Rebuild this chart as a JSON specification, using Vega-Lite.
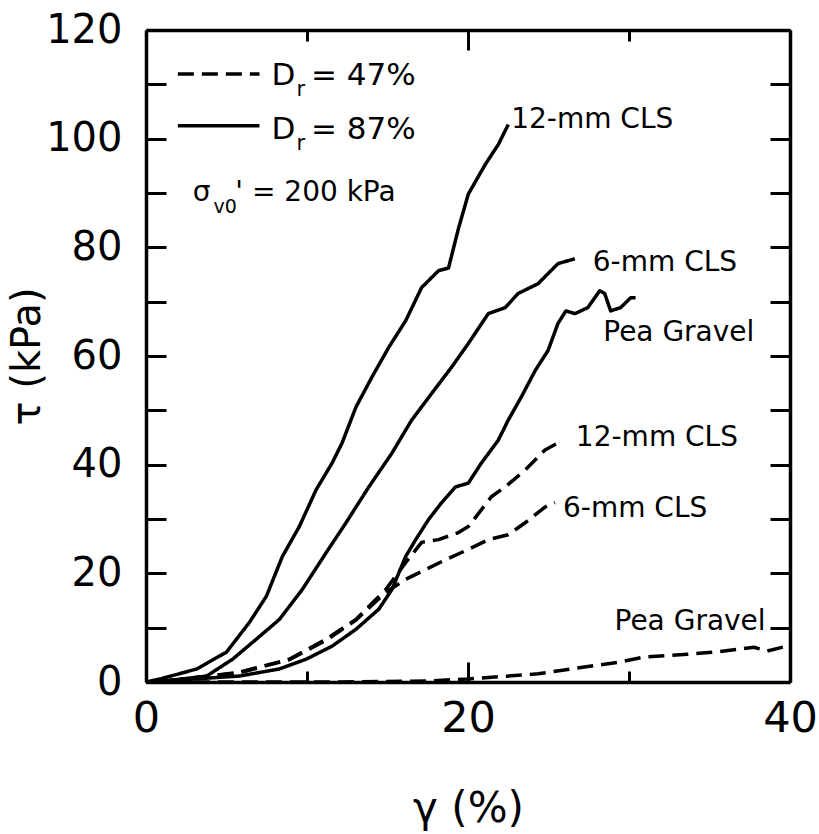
{
  "$schema": "https://vega.github.io/schema/vega-lite/v6.json",
  "autosize": {"type": "none"},
  "padding": {"left": 146, "top": 30, "right": 29, "bottom": 152},
  "width": 644,
  "height": 652,
  "background": "white",
  "config": {
    "view": {"stroke": null},
    "font": "DejaVu Sans",
    "axis": {
      "domainColor": "black", "domainWidth": 3.5, "tickColor": "black", "tickWidth": 3,
      "grid": false, "labelColor": "black", "titleColor": "black", "labelFont": "DejaVu Sans", "titleFont": "DejaVu Sans", "titleFontWeight": "normal"
    }
  },
  "datasets": {
    "curves": [
      {"sample": "12-mm CLS", "dr": "87%", "x": 0, "y": 0},
      {"sample": "12-mm CLS", "dr": "87%", "x": 0.87, "y": 0.55},
      {"sample": "12-mm CLS", "dr": "87%", "x": 3.15, "y": 2.4},
      {"sample": "12-mm CLS", "dr": "87%", "x": 5.0, "y": 5.5},
      {"sample": "12-mm CLS", "dr": "87%", "x": 6.43, "y": 11.0},
      {"sample": "12-mm CLS", "dr": "87%", "x": 7.48, "y": 15.8},
      {"sample": "12-mm CLS", "dr": "87%", "x": 8.47, "y": 23.1},
      {"sample": "12-mm CLS", "dr": "87%", "x": 9.52, "y": 28.6},
      {"sample": "12-mm CLS", "dr": "87%", "x": 10.57, "y": 35.4},
      {"sample": "12-mm CLS", "dr": "87%", "x": 11.56, "y": 40.3},
      {"sample": "12-mm CLS", "dr": "87%", "x": 12.18, "y": 44.0},
      {"sample": "12-mm CLS", "dr": "87%", "x": 13.04, "y": 50.6},
      {"sample": "12-mm CLS", "dr": "87%", "x": 14.03, "y": 56.1},
      {"sample": "12-mm CLS", "dr": "87%", "x": 15.08, "y": 61.6},
      {"sample": "12-mm CLS", "dr": "87%", "x": 16.13, "y": 66.5},
      {"sample": "12-mm CLS", "dr": "87%", "x": 17.12, "y": 72.6},
      {"sample": "12-mm CLS", "dr": "87%", "x": 18.17, "y": 75.7},
      {"sample": "12-mm CLS", "dr": "87%", "x": 18.79, "y": 76.2},
      {"sample": "12-mm CLS", "dr": "87%", "x": 19.41, "y": 83.5},
      {"sample": "12-mm CLS", "dr": "87%", "x": 20.02, "y": 89.8},
      {"sample": "12-mm CLS", "dr": "87%", "x": 21.08, "y": 95.3},
      {"sample": "12-mm CLS", "dr": "87%", "x": 21.88, "y": 98.9},
      {"sample": "12-mm CLS", "dr": "87%", "x": 22.5, "y": 102.6},
      {"sample": "6-mm CLS", "dr": "87%", "x": 0, "y": 0},
      {"sample": "6-mm CLS", "dr": "87%", "x": 1.5, "y": 0.3},
      {"sample": "6-mm CLS", "dr": "87%", "x": 3.77, "y": 1.1},
      {"sample": "6-mm CLS", "dr": "87%", "x": 5.38, "y": 4.2},
      {"sample": "6-mm CLS", "dr": "87%", "x": 6.86, "y": 7.9},
      {"sample": "6-mm CLS", "dr": "87%", "x": 8.28, "y": 11.5},
      {"sample": "6-mm CLS", "dr": "87%", "x": 9.7, "y": 17.0},
      {"sample": "6-mm CLS", "dr": "87%", "x": 11.19, "y": 23.8},
      {"sample": "6-mm CLS", "dr": "87%", "x": 12.42, "y": 29.3},
      {"sample": "6-mm CLS", "dr": "87%", "x": 13.84, "y": 35.9},
      {"sample": "6-mm CLS", "dr": "87%", "x": 15.27, "y": 42.1},
      {"sample": "6-mm CLS", "dr": "87%", "x": 16.5, "y": 48.2},
      {"sample": "6-mm CLS", "dr": "87%", "x": 17.74, "y": 53.1},
      {"sample": "6-mm CLS", "dr": "87%", "x": 18.97, "y": 57.9},
      {"sample": "6-mm CLS", "dr": "87%", "x": 20.02, "y": 62.3},
      {"sample": "6-mm CLS", "dr": "87%", "x": 21.26, "y": 67.8},
      {"sample": "6-mm CLS", "dr": "87%", "x": 22.31, "y": 68.9},
      {"sample": "6-mm CLS", "dr": "87%", "x": 23.11, "y": 71.5},
      {"sample": "6-mm CLS", "dr": "87%", "x": 24.35, "y": 73.3},
      {"sample": "6-mm CLS", "dr": "87%", "x": 25.59, "y": 77.0},
      {"sample": "6-mm CLS", "dr": "87%", "x": 26.64, "y": 77.9},
      {"sample": "Pea Gravel", "dr": "87%", "x": 0, "y": 0},
      {"sample": "Pea Gravel", "dr": "87%", "x": 1.67, "y": 0.3},
      {"sample": "Pea Gravel", "dr": "87%", "x": 5.81, "y": 1.1},
      {"sample": "Pea Gravel", "dr": "87%", "x": 8.28, "y": 2.4},
      {"sample": "Pea Gravel", "dr": "87%", "x": 9.95, "y": 4.2},
      {"sample": "Pea Gravel", "dr": "87%", "x": 11.56, "y": 6.6},
      {"sample": "Pea Gravel", "dr": "87%", "x": 13.04, "y": 9.7},
      {"sample": "Pea Gravel", "dr": "87%", "x": 14.46, "y": 13.4},
      {"sample": "Pea Gravel", "dr": "87%", "x": 15.27, "y": 17.0},
      {"sample": "Pea Gravel", "dr": "87%", "x": 16.13, "y": 23.1},
      {"sample": "Pea Gravel", "dr": "87%", "x": 16.75, "y": 26.2},
      {"sample": "Pea Gravel", "dr": "87%", "x": 17.55, "y": 29.9},
      {"sample": "Pea Gravel", "dr": "87%", "x": 18.36, "y": 33.0},
      {"sample": "Pea Gravel", "dr": "87%", "x": 19.22, "y": 35.9},
      {"sample": "Pea Gravel", "dr": "87%", "x": 20.02, "y": 36.6},
      {"sample": "Pea Gravel", "dr": "87%", "x": 20.83, "y": 40.3},
      {"sample": "Pea Gravel", "dr": "87%", "x": 21.88, "y": 44.5},
      {"sample": "Pea Gravel", "dr": "87%", "x": 22.5, "y": 48.2},
      {"sample": "Pea Gravel", "dr": "87%", "x": 23.3, "y": 52.4},
      {"sample": "Pea Gravel", "dr": "87%", "x": 24.17, "y": 57.3},
      {"sample": "Pea Gravel", "dr": "87%", "x": 24.97, "y": 61.0},
      {"sample": "Pea Gravel", "dr": "87%", "x": 25.59, "y": 66.0},
      {"sample": "Pea Gravel", "dr": "87%", "x": 26.08, "y": 68.3},
      {"sample": "Pea Gravel", "dr": "87%", "x": 26.64, "y": 67.8},
      {"sample": "Pea Gravel", "dr": "87%", "x": 27.44, "y": 68.9},
      {"sample": "Pea Gravel", "dr": "87%", "x": 28.18, "y": 72.0},
      {"sample": "Pea Gravel", "dr": "87%", "x": 28.49, "y": 71.5},
      {"sample": "Pea Gravel", "dr": "87%", "x": 28.86, "y": 68.3},
      {"sample": "Pea Gravel", "dr": "87%", "x": 29.48, "y": 68.9},
      {"sample": "Pea Gravel", "dr": "87%", "x": 30.1, "y": 70.7},
      {"sample": "Pea Gravel", "dr": "87%", "x": 30.41, "y": 70.7},
      {"sample": "12-mm CLS", "dr": "47%", "x": 0, "y": 0},
      {"sample": "12-mm CLS", "dr": "47%", "x": 1.67, "y": 0.3},
      {"sample": "12-mm CLS", "dr": "47%", "x": 5.81, "y": 1.8},
      {"sample": "12-mm CLS", "dr": "47%", "x": 8.9, "y": 4.2},
      {"sample": "12-mm CLS", "dr": "47%", "x": 11.19, "y": 7.9},
      {"sample": "12-mm CLS", "dr": "47%", "x": 13.04, "y": 11.5},
      {"sample": "12-mm CLS", "dr": "47%", "x": 14.89, "y": 17.0},
      {"sample": "12-mm CLS", "dr": "47%", "x": 16.13, "y": 22.0},
      {"sample": "12-mm CLS", "dr": "47%", "x": 17.12, "y": 25.7},
      {"sample": "12-mm CLS", "dr": "47%", "x": 18.17, "y": 26.2},
      {"sample": "12-mm CLS", "dr": "47%", "x": 19.41, "y": 27.5},
      {"sample": "12-mm CLS", "dr": "47%", "x": 20.02, "y": 28.6},
      {"sample": "12-mm CLS", "dr": "47%", "x": 20.21, "y": 29.3},
      {"sample": "12-mm CLS", "dr": "47%", "x": 21.45, "y": 34.1},
      {"sample": "12-mm CLS", "dr": "47%", "x": 22.31, "y": 35.9},
      {"sample": "12-mm CLS", "dr": "47%", "x": 23.55, "y": 39.0},
      {"sample": "12-mm CLS", "dr": "47%", "x": 24.78, "y": 42.7},
      {"sample": "12-mm CLS", "dr": "47%", "x": 25.59, "y": 44.0},
      {"sample": "6-mm CLS", "dr": "47%", "x": 0, "y": 0},
      {"sample": "6-mm CLS", "dr": "47%", "x": 1.67, "y": 0.3},
      {"sample": "6-mm CLS", "dr": "47%", "x": 5.81, "y": 1.7},
      {"sample": "6-mm CLS", "dr": "47%", "x": 8.9, "y": 4.1},
      {"sample": "6-mm CLS", "dr": "47%", "x": 11.19, "y": 7.7},
      {"sample": "6-mm CLS", "dr": "47%", "x": 13.04, "y": 11.4},
      {"sample": "6-mm CLS", "dr": "47%", "x": 14.89, "y": 16.5},
      {"sample": "6-mm CLS", "dr": "47%", "x": 16.13, "y": 18.9},
      {"sample": "6-mm CLS", "dr": "47%", "x": 17.37, "y": 20.7},
      {"sample": "6-mm CLS", "dr": "47%", "x": 18.6, "y": 22.5},
      {"sample": "6-mm CLS", "dr": "47%", "x": 20.02, "y": 24.4},
      {"sample": "6-mm CLS", "dr": "47%", "x": 21.26, "y": 26.2},
      {"sample": "6-mm CLS", "dr": "47%", "x": 22.5, "y": 27.1},
      {"sample": "6-mm CLS", "dr": "47%", "x": 23.55, "y": 29.3},
      {"sample": "6-mm CLS", "dr": "47%", "x": 24.78, "y": 32.2},
      {"sample": "6-mm CLS", "dr": "47%", "x": 25.4, "y": 33.0},
      {"sample": "Pea Gravel", "dr": "47%", "x": 0, "y": 0},
      {"sample": "Pea Gravel", "dr": "47%", "x": 12.05, "y": 0},
      {"sample": "Pea Gravel", "dr": "47%", "x": 17.55, "y": 0.2},
      {"sample": "Pea Gravel", "dr": "47%", "x": 19.96, "y": 0.55},
      {"sample": "Pea Gravel", "dr": "47%", "x": 24.35, "y": 1.5},
      {"sample": "Pea Gravel", "dr": "47%", "x": 26.39, "y": 2.4},
      {"sample": "Pea Gravel", "dr": "47%", "x": 29.48, "y": 3.7},
      {"sample": "Pea Gravel", "dr": "47%", "x": 30.96, "y": 4.6},
      {"sample": "Pea Gravel", "dr": "47%", "x": 33.62, "y": 5.1},
      {"sample": "Pea Gravel", "dr": "47%", "x": 35.29, "y": 5.5},
      {"sample": "Pea Gravel", "dr": "47%", "x": 36.71, "y": 6.0},
      {"sample": "Pea Gravel", "dr": "47%", "x": 37.76, "y": 6.4},
      {"sample": "Pea Gravel", "dr": "47%", "x": 38.57, "y": 5.7},
      {"sample": "Pea Gravel", "dr": "47%", "x": 39.8, "y": 6.6}
    ],
    "legendLines": [
      {"dr": "47%", "x": 1.98, "y": 111.9},
      {"dr": "47%", "x": 7.05, "y": 111.9},
      {"dr": "87%", "x": 1.98, "y": 102.4},
      {"dr": "87%", "x": 7.05, "y": 102.4}
    ],
    "curveLabels": [
      {"label": "12-mm CLS", "x": 22.68, "y": 103.5},
      {"label": "6-mm CLS", "x": 27.75, "y": 77.1},
      {"label": "Pea Gravel", "x": 28.4, "y": 64.3},
      {"label": "12-mm CLS", "x": 26.7, "y": 44.9},
      {"label": "6-mm CLS", "x": 25.9, "y": 31.9},
      {"label": "Pea Gravel", "x": 29.1, "y": 11.0}
    ],
    "bigText": [
      {"label": "D", "x": 7.79, "y": 109.9},
      {"label": "= 47%", "x": 10.25, "y": 109.9},
      {"label": "D", "x": 7.79, "y": 100.0},
      {"label": "= 87%", "x": 10.25, "y": 100.0}
    ],
    "subText": [
      {"label": "r", "x": 9.35, "y": 107.9},
      {"label": "r", "x": 9.35, "y": 98.0}
    ],
    "sigmaText": [
      {"label": "σ", "x": 2.9, "y": 88.5},
      {"label": "' = 200 kPa", "x": 5.55, "y": 88.5}
    ],
    "sigmaSub": [
      {"label": "v0", "x": 4.2, "y": 86.3}
    ]
  },
  "layer": [
    {
      "data": {"name": "curves"},
      "mark": {"type": "line", "color": "black", "strokeWidth": 3.5, "strokeCap": "butt", "strokeJoin": "round"},
      "encoding": {
        "x": {
          "field": "x", "type": "quantitative",
          "scale": {"domain": [0, 40], "nice": false, "zero": false},
          "axis": {
            "orient": "bottom", "title": "γ (%)", "titleFontSize": 42, "titlePadding": 48,
            "values": [0, 10, 20, 30, 40],
            "labelExpr": "datum.value % 20 === 0 ? datum.label : ''",
            "labelFontSize": 43, "labelPadding": 35, "labelFlush": false,
            "tickSize": {"condition": {"test": "datum.value % 20 === 0", "value": -20}, "value": -11}
          }
        },
        "y": {
          "field": "y", "type": "quantitative",
          "scale": {"domain": [0, 120], "nice": false, "zero": false},
          "axis": {
            "orient": "left", "title": "τ (kPa)", "titleFontSize": 40, "titlePadding": -2,
            "values": [0, 10, 20, 30, 40, 50, 60, 70, 80, 90, 100, 110, 120],
            "labelExpr": "datum.value % 20 === 0 ? datum.label : ''",
            "labelFontSize": 40, "labelPadding": 44, "labelFlush": false,
            "tickSize": -20
          }
        },
        "detail": {"field": "sample"},
        "strokeDash": {
          "field": "dr", "type": "nominal",
          "scale": {"domain": ["47%", "87%"], "range": [[16, 8], [1, 0]]},
          "legend": null
        }
      }
    },
    {
      "data": {"name": "legendLines"},
      "mark": {"type": "line", "color": "black", "strokeWidth": 3.5, "strokeCap": "butt"},
      "encoding": {
        "x": {"field": "x", "type": "quantitative", "scale": {"domain": [0, 40]}, "axis": null},
        "y": {"field": "y", "type": "quantitative", "scale": {"domain": [0, 120]}, "axis": null},
        "detail": {"field": "dr"},
        "strokeDash": {
          "field": "dr", "type": "nominal",
          "scale": {"domain": ["47%", "87%"], "range": [[20, 16], [1, 0]]},
          "legend": null
        }
      }
    },
    {
      "data": {"name": "curveLabels"},
      "mark": {"type": "text", "align": "left", "baseline": "middle", "fontSize": 28, "color": "black", "font": "DejaVu Sans"},
      "encoding": {
        "x": {"field": "x", "type": "quantitative", "scale": {"domain": [0, 40]}, "axis": null},
        "y": {"field": "y", "type": "quantitative", "scale": {"domain": [0, 120]}, "axis": null},
        "text": {"field": "label"}
      }
    },
    {
      "data": {"name": "bigText"},
      "mark": {"type": "text", "align": "left", "baseline": "alphabetic", "fontSize": 31, "color": "black", "font": "DejaVu Sans"},
      "encoding": {
        "x": {"field": "x", "type": "quantitative", "scale": {"domain": [0, 40]}, "axis": null},
        "y": {"field": "y", "type": "quantitative", "scale": {"domain": [0, 120]}, "axis": null},
        "text": {"field": "label"}
      }
    },
    {
      "data": {"name": "subText"},
      "mark": {"type": "text", "align": "left", "baseline": "alphabetic", "fontSize": 21, "color": "black", "font": "DejaVu Sans"},
      "encoding": {
        "x": {"field": "x", "type": "quantitative", "scale": {"domain": [0, 40]}, "axis": null},
        "y": {"field": "y", "type": "quantitative", "scale": {"domain": [0, 120]}, "axis": null},
        "text": {"field": "label"}
      }
    },
    {
      "data": {"name": "sigmaText"},
      "mark": {"type": "text", "align": "left", "baseline": "alphabetic", "fontSize": 28, "color": "black", "font": "DejaVu Sans"},
      "encoding": {
        "x": {"field": "x", "type": "quantitative", "scale": {"domain": [0, 40]}, "axis": null},
        "y": {"field": "y", "type": "quantitative", "scale": {"domain": [0, 120]}, "axis": null},
        "text": {"field": "label"}
      }
    },
    {
      "data": {"name": "sigmaSub"},
      "mark": {"type": "text", "align": "left", "baseline": "alphabetic", "fontSize": 19, "color": "black", "font": "DejaVu Sans"},
      "encoding": {
        "x": {
          "field": "x", "type": "quantitative", "scale": {"domain": [0, 40]},
          "axis": {
            "orient": "top", "title": null, "labels": false,
            "values": [0, 10, 20, 30, 40],
            "tickSize": {"condition": {"test": "datum.value % 20 === 0", "value": -20}, "value": -11}
          }
        },
        "y": {
          "field": "y", "type": "quantitative", "scale": {"domain": [0, 120]},
          "axis": {
            "orient": "right", "title": null, "labels": false,
            "values": [0, 10, 20, 30, 40, 50, 60, 70, 80, 90, 100, 110, 120],
            "tickSize": -20
          }
        },
        "text": {"field": "label"}
      }
    }
  ],
  "resolve": {"axis": {"x": "independent", "y": "independent"}}
}
